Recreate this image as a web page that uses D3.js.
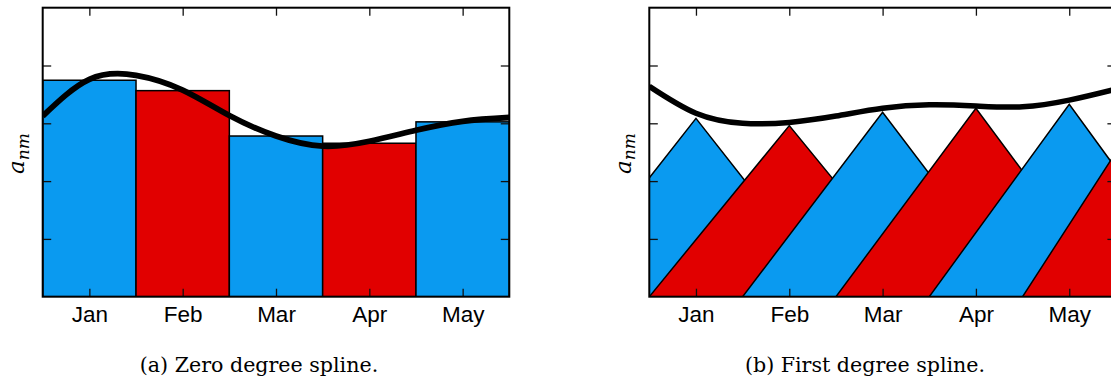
<!DOCTYPE html>
<html>
<head>
<meta charset="utf-8">
<title>spline figure</title>
<style>
    body { margin: 0; background: #fff; }
    svg { display: block; }
    .tick line { stroke: #111; stroke-width: 1.3; }
    .domain { display: none; }
</style>
</head>
<body>
<main></main>
<script src="https://cdn.jsdelivr.net/npm/d3@7"></script>
<script>
    // data ==============================
    var months = ["Jan", "Feb", "Mar", "Apr", "May"];
    var barValues = [0.749, 0.713, 0.556, 0.531, 0.605];       // (a) bar heights
    var splineX = [0, 0.5, 1, 1.5, 2, 2.5, 3, 3.5, 4, 4.5, 5];
    var zeroSpline = [0.625, 0.752, 0.766, 0.715, 0.627, 0.556, 0.521, 0.538, 0.576, 0.607, 0.620];
    var peakValues = [0.617, 0.592, 0.638, 0.652, 0.666, 0.75]; // (b) triangle apexes, last one past May
    var firstSpline = [0.728, 0.635, 0.600, 0.603, 0.625, 0.652, 0.664, 0.660, 0.657, 0.680, 0.718];
    var yTicks = [0.2, 0.4, 0.6, 0.8];
    var captions = ["(a) Zero degree spline.", "(b) First degree spline."];

    // layout ============================
    var width = 1111, height = 378;
    var top_ = 7.7, bottom = 296.7;
    var panelLeft = [42.7, 649.3];
    var panelWidth = 466.6;
    var captionX = [259, 865];
    var blue = "#0a9af0", red = "#e10000";

    var svg = d3.select("main").append("svg")
        .attr("width", width)
        .attr("height", height);

    var y = d3.scaleLinear().domain([0, 1]).range([bottom, top_]);

    drawPanel(0);
    drawPanel(1);

    function drawPanel(p) {
        var x = d3.scaleLinear().domain([0, months.length])
            .range([panelLeft[p], panelLeft[p] + panelWidth]);
        var g = svg.append("g");

        // clip to the axes box
        svg.append("clipPath").attr("id", "clip" + p)
            .append("rect")
            .attr("x", x(0)).attr("y", y(1))
            .attr("width", x(5) - x(0)).attr("height", y(0) - y(1));
        var plot = g.append("g").attr("clip-path", "url(#clip" + p + ")");

        var curve;
        if (p === 0) {
            // histogram bars
            plot.selectAll("rect.bar").data(barValues).enter()
                .append("rect")
                .attr("class", "bar")
                .attr("x", function (d, i) { return x(i); })
                .attr("y", function (d) { return y(d); })
                .attr("width", x(1) - x(0))
                .attr("height", function (d) { return y(0) - y(d); })
                .attr("fill", function (d, i) { return i % 2 ? red : blue; })
                .attr("stroke", "#000")
                .attr("stroke-width", 1.5);
            curve = zeroSpline;
        } else {
            // hat functions, drawn in order so later ones cover earlier ones
            var tri = d3.line()
                .x(function (d) { return x(d[0]); })
                .y(function (d) { return y(d[1]); });
            plot.selectAll("path.hat").data(peakValues).enter()
                .append("path")
                .attr("class", "hat")
                .attr("d", function (d, i) {
                    var c = i + 0.5;
                    return tri([[c - 1.5, 0], [c, d], [c + 1.5, 0]]) + "Z";
                })
                .attr("fill", function (d, i) { return i % 2 ? red : blue; })
                .attr("stroke", "#000")
                .attr("stroke-width", 1.5)
                .attr("stroke-linejoin", "miter");
            curve = firstSpline;
        }

        var line = d3.line()
            .x(function (d, i) { return x(splineX[i]); })
            .y(function (d) { return y(d); })
            .curve(d3.curveNatural);
        plot.append("path")
            .attr("d", line(curve))
            .attr("fill", "none")
            .attr("stroke", "#000")
            .attr("stroke-width", p === 0 ? 5.8 : 5.5);

        // axes, ticks pointing inwards
        var centers = months.map(function (m, i) { return i + 0.5; });
        g.append("g")
            .attr("transform", "translate(0," + bottom + ")")
            .call(d3.axisBottom(x).tickValues(centers)
                .tickFormat(function (d, i) { return months[i]; })
                .tickSizeInner(-8).tickSizeOuter(0).tickPadding(9.5))
            .selectAll("text")
            .attr("font-family", "'Liberation Sans', Arial, sans-serif")
            .attr("font-size", "22.5px")
            .attr("fill", "#000");
        g.append("g")
            .attr("transform", "translate(0," + top_ + ")")
            .call(d3.axisTop(x).tickValues(centers).tickFormat("")
                .tickSizeInner(-8).tickSizeOuter(0));
        g.append("g")
            .attr("transform", "translate(" + x(0) + ",0)")
            .call(d3.axisLeft(y).tickValues(yTicks).tickFormat("")
                .tickSizeInner(-8.5).tickSizeOuter(0));
        g.append("g")
            .attr("transform", "translate(" + x(5) + ",0)")
            .call(d3.axisRight(y).tickValues(yTicks).tickFormat("")
                .tickSizeInner(-8.5).tickSizeOuter(0));

        // frame
        g.append("rect")
            .attr("x", x(0)).attr("y", y(1))
            .attr("width", x(5) - x(0)).attr("height", y(0) - y(1))
            .attr("fill", "none")
            .attr("stroke", "#000")
            .attr("stroke-width", 2);

        // y label a_nm
        var lab = g.append("text")
            .attr("transform", "translate(" + (x(0) - 18.5) + ",174) rotate(-90)")
            .attr("font-family", "'DejaVu Serif', serif")
            .attr("font-style", "italic")
            .attr("font-size", "23px");
        lab.append("tspan").text("a");
        lab.append("tspan").attr("dy", 4.5).attr("font-size", "17px").text("nm");

        // caption
        g.append("text")
            .attr("x", captionX[p])
            .attr("y", 372)
            .attr("text-anchor", "middle")
            .attr("font-family", "'DejaVu Serif', serif")
            .attr("font-size", "20.6px")
            .text(captions[p]);
    }
</script>
</body>
</html>
